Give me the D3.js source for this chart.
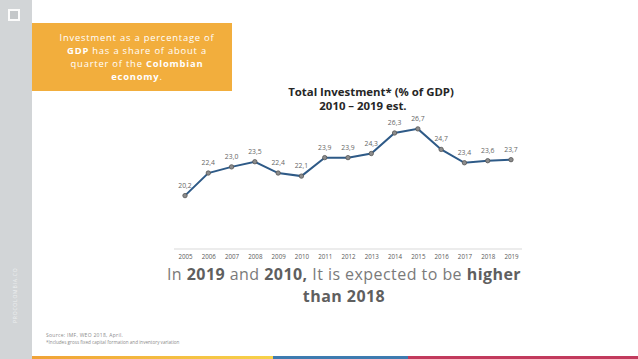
<!DOCTYPE html>
<html><head><meta charset="utf-8">
<script src="https://cdn.jsdelivr.net/npm/d3@7"></script>
<style>body{margin:0;background:#fff;}svg{display:block;}</style>
</head><body><svg id="c" width="638" height="359"></svg>
<script>
const years = ["2005","2006","2007","2008","2009","2010","2011","2012","2013","2014","2015","2016","2017","2018","2019"];
const values = [20.2,22.4,23.0,23.5,22.4,22.1,23.9,23.9,24.3,26.3,26.7,24.7,23.4,23.6,23.7];
const valueLabels = ["20,2","22,4","23,0","23,5","22,4","22,1","23,9","23,9","24,3","26,3","26,7","24,7","23,4","23,6","23,7"];

const svg = d3.select("#c");
const font = "'Open Sans', sans-serif";

// sidebar
svg.append("rect").attr("x",0).attr("y",0).attr("width",32).attr("height",359).attr("fill","#d2d5d7");
svg.append("rect").attr("x",8).attr("y",9).attr("width",12).attr("height",12).attr("fill","#fff").attr("opacity",0.9);
svg.append("rect").attr("x",10).attr("y",11).attr("width",8).attr("height",8).attr("fill","#c4c7c9");
svg.append("text").attr("transform","translate(17,323) rotate(-90)").attr("font-family",font)
  .attr("font-size",5).attr("fill","#eef0f1").attr("letter-spacing",0.8).text("PROCOLOMBIA.CO");

// orange box
svg.append("rect").attr("x",32).attr("y",23).attr("width",200).attr("height",68).attr("fill","#f2ae3d");
const boxLines = [
  [["Investment as a percentage of",false]],
  [["GDP",true],[" has a share of about a",false]],
  [["quarter of the ",false],["Colombian",true]],
  [["economy",true],[".",false]]
];
boxLines.forEach((ln,i)=>{
  const t = svg.append("text").attr("x",137).attr("y",40.8+i*13.2).attr("text-anchor","middle")
    .attr("font-family",font).attr("font-size",9.4).attr("letter-spacing",0.8).attr("fill","#fff");
  ln.forEach(([s,b])=>t.append("tspan").attr("font-weight",b?"bold":"normal").text(s));
});

// chart
const x = d3.scalePoint().domain(years).range([185,511]);
const y = d3.scaleLinear().domain([15,30]).range([249,95]);

svg.append("line").attr("x1",174).attr("x2",522).attr("y1",y(15)).attr("y2",y(15))
  .attr("stroke","#d9d9d9").attr("stroke-width",1);

const xAxis = d3.axisBottom(x).tickSize(0).tickPadding(6);
const ga = svg.append("g").attr("transform",`translate(0,${y(15)})`).call(xAxis);
ga.select(".domain").remove();
ga.selectAll("text").attr("font-family",font).attr("font-size",6.2).attr("fill","#595959");

const line = d3.line().x((d,i)=>x(years[i])).y(d=>y(d));
svg.append("path").datum(values).attr("d",line).attr("fill","none")
  .attr("stroke","#2e5a87").attr("stroke-width",2);
svg.selectAll("circle.pt").data(values).join("circle").attr("class","pt")
  .attr("cx",(d,i)=>x(years[i])).attr("cy",d=>y(d)).attr("r",2.2)
  .attr("fill","#8c8c8c").attr("stroke","#555").attr("stroke-width",0.8);
svg.selectAll("text.lbl").data(values).join("text").attr("class","lbl")
  .attr("x",(d,i)=>x(years[i])).attr("y",d=>y(d)-8).attr("text-anchor","middle")
  .attr("font-family",font).attr("font-size",6.8).attr("fill","#666")
  .text((d,i)=>valueLabels[i]);

// title
svg.append("text").attr("x",371).attr("y",96).attr("text-anchor","middle").attr("font-family",font)
  .attr("font-weight","bold").attr("font-size",11.4).attr("fill","#262626").text("Total Investment* (% of GDP)");
svg.append("text").attr("x",363).attr("y",110).attr("text-anchor","middle").attr("font-family",font)
  .attr("font-weight","bold").attr("font-size",11.4).attr("fill","#262626").text("2010 – 2019 est.");

// bottom statement
const s1 = svg.append("text").attr("x",344).attr("y",280).attr("text-anchor","middle")
  .attr("font-family",font).attr("font-size",16).attr("letter-spacing",0.45).attr("fill","#7a7a7a");
[["In ",false],["2019",true],[" and ",false],["2010,",true],[" It is expected to be ",false],["higher",true]]
  .forEach(([s,b])=>s1.append("tspan").attr("font-weight",b?"bold":"normal").attr("fill",b?"#5f5f5f":"#7a7a7a").text(s));
svg.append("text").attr("x",344).attr("y",302).attr("text-anchor","middle")
  .attr("font-family",font).attr("font-size",16).attr("letter-spacing",0.45).attr("font-weight","bold").attr("fill","#5f5f5f").text("than 2018");

// footer
svg.append("text").attr("x",46).attr("y",337).attr("font-family",font).attr("font-size",5).attr("letter-spacing",0.3).attr("fill","#8a8a8a")
  .text("Source: IMF, WEO 2018, April.");
svg.append("text").attr("x",46).attr("y",344).attr("font-family",font).attr("font-size",4.6).attr("fill","#8a8a8a")
  .text("*Includes gross fixed capital formation and inventory variation");

// bottom color bar
const defs = svg.append("defs");
const g1 = defs.append("linearGradient").attr("id","og");
g1.append("stop").attr("offset","0%").attr("stop-color","#f0a236");
g1.append("stop").attr("offset","100%").attr("stop-color","#f7d24a");
svg.append("rect").attr("x",32).attr("y",356).attr("width",241).attr("height",3).attr("fill","url(#og)");
svg.append("rect").attr("x",273).attr("y",356).attr("width",135).attr("height",3).attr("fill","#3e7bb0");
svg.append("rect").attr("x",408).attr("y",356).attr("width",230).attr("height",3).attr("fill","#c23a5d");
</script></body></html>
